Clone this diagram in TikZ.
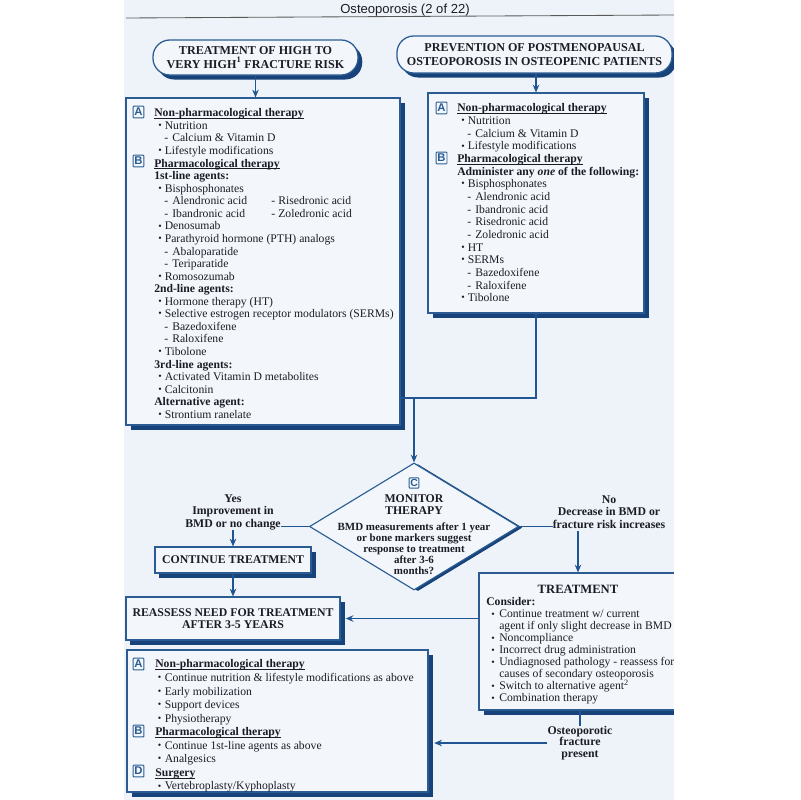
\documentclass[tikz,border=0pt]{standalone}
\usepackage{fontspec}
\setmainfont{Liberation Serif}
\newfontfamily\hsans{Liberation Sans}
\usetikzlibrary{shapes.geometric,shadows,fit,arrows.meta,calc}
\definecolor{pagebg}{HTML}{EEF3F9}
\definecolor{boxbg}{HTML}{F3F7FB}
\definecolor{bord}{HTML}{2A5C93}
\definecolor{shd}{HTML}{17437A}
\definecolor{conn}{HTML}{1F5592}
\definecolor{ink}{HTML}{1C1C26}
\newlength\px \setlength\px{0.7113pt}
\newcommand\tight{\lineskiplimit=-20pt\relax\lineskip=0pt\relax}
\newcommand\bodyfont{\fontsize{8.3}{8.93}\selectfont\tight}
\newcommand\bdot{\raisebox{0.6pt}{\fontsize{7}{6}\selectfont\textbullet}}
\newcommand\bull[3]{\hspace*{#1\px}\makebox[\dimexpr#2\px-#1\px\relax][l]{\bdot}#3}
\newcommand\bA[1]{\bull{4}{10.5}{#1}}
\newcommand\dA[1]{\hspace*{10\px}\makebox[8\px][l]{-}#1}
\newcommand\bT[1]{\bull{5}{13}{#1}}
\newcommand\bB[1]{\bull{2.5}{9.5}{#1}}
\newsavebox\hdbox
\newcommand\hd[1]{\sbox\hdbox{\textbf{#1}}\rlap{\rule[-1.4pt]{\wd\hdbox}{0.45pt}}\usebox\hdbox}
\begin{document}
\begin{tikzpicture}[x=0.025cm,y=-0.025cm,
  tbox/.style={draw=bord, line width=0.8pt, fill=boxbg, inner sep=0pt,
    general shadow={fill=shd, shadow xshift=3.4pt, shadow yshift=-3.4pt}},
  pill/.style={draw=bord, line width=0.9pt, fill=boxbg, rounded corners=12pt, inner sep=0pt,
    align=center, text=ink, font=\bfseries\fontsize{8.6}{9.8}\selectfont\tight,
    general shadow={fill=shd, shadow xshift=3pt, shadow yshift=-3.2pt}},
  capbox/.style={draw=bord, line width=0.8pt, fill=boxbg, inner sep=0pt, align=center, text=ink,
    font=\bfseries\fontsize{8.4}{8.8}\selectfont\tight,
    general shadow={fill=shd, shadow xshift=3.2pt, shadow yshift=-3.2pt}},
  txt/.style={inner sep=0pt, align=left, font=\bodyfont, text=ink},
  lbl/.style={inner sep=0pt, align=center, text=ink, font=\bfseries\fontsize{8.4}{8.9}\selectfont\tight},
  lbox/.style={draw=bord, line width=0.7pt, text=bord, fill=boxbg, inner sep=0pt,
    minimum width=7.8pt, minimum height=8.4pt, rounded corners=0.6pt,
    font=\hsans\bfseries\fontsize{8}{8}\selectfont},
  conn/.style={draw=conn, line width=1.1pt},
  arr/.style={conn, -{Stealth[length=5.5pt, width=4.6pt]}}
]
\useasboundingbox (0,0) rectangle (800,800);
\fill[white] (0,0) rectangle (800,800);
\fill[pagebg] (124,0) rectangle (674,800);

% title
\node[font=\hsans\fontsize{9.3}{10}\selectfont, text=ink, inner sep=0pt] (TTL) at (405,10) {Osteoporosis (2 of 22)};
\draw[gray!70!black, line width=0.6pt] (126,18) -- (674,15);

% header pills
\node[pill, minimum width=5.125cm, minimum height=0.875cm] (LH) at (255.5,57.5)
  {TREATMENT OF HIGH TO\\VERY HIGH\textsuperscript{1} FRACTURE RISK};
\node[pill, minimum width=6.875cm, minimum height=0.925cm] (RH) at (534.5,54.5)
  {PREVENTION OF POSTMENOPAUSAL\\OSTEOPOROSIS IN OSTEOPENIC PATIENTS};

% main boxes
\node[tbox, fit={(126,98) (400,425)}] (LB) {};
\node[tbox, fit={(428,93) (644,313)}] (RB) {};

\draw[arr] (LH.south) -- (LH.south |- LB.north);
\draw[arr] (RH.south -| RB.north) -- (RB.north);

\node[txt, anchor=north west] (LT) at (154,108.5) {%
\hd{Non-pharmacological therapy}\\
\bA{Nutrition}\\
\dA{Calcium \& Vitamin D}\\
\bA{Lifestyle modifications}\\
\hd{Pharmacological therapy}\\
\textbf{1st-line agents:}\\
\bA{Bisphosphonates}\\
\makebox[117\px][l]{\dA{Alendronic acid}}\makebox[7\px][l]{-}Risedronic acid\\
\makebox[117\px][l]{\dA{Ibandronic acid}}\makebox[7\px][l]{-}Zoledronic acid\\
\bA{Denosumab}\\
\bA{Parathyroid hormone (PTH) analogs}\\
\dA{Abaloparatide}\\
\dA{Teriparatide}\\
\bA{Romosozumab}\\
\textbf{2nd-line agents:}\\
\bA{Hormone therapy (HT)}\\
\bA{Selective estrogen receptor modulators (SERMs)}\\
\dA{Bazedoxifene}\\
\dA{Raloxifene}\\
\bA{Tibolone}\\
\textbf{3rd-line agents:}\\
\bA{Activated Vitamin D metabolites}\\
\bA{Calcitonin}\\
\textbf{Alternative agent:}\\
\bA{Strontium ranelate}};
\node[lbox] (LA) at (138.5,112) {A};
\node[lbox] (LBb) at (138.5,161) {B};

\node[txt, anchor=north west, font=\fontsize{8.3}{9.0}\selectfont\tight] (RT) at (457,103.5) {%
\hd{Non-pharmacological therapy}\\
\bA{Nutrition}\\
\dA{Calcium \& Vitamin D}\\
\bA{Lifestyle modifications}\\
\hd{Pharmacological therapy}\\
\textbf{Administer any \textit{one} of the following:}\\
\bA{Bisphosphonates}\\
\dA{Alendronic acid}\\
\dA{Ibandronic acid}\\
\dA{Risedronic acid}\\
\dA{Zoledronic acid}\\
\bA{HT}\\
\bA{SERMs}\\
\dA{Bazedoxifene}\\
\dA{Raloxifene}\\
\bA{Tibolone}};
\node[lbox] (RA1) at (441.5,108) {A};
\node[lbox] (RB1) at (441.5,158) {B};

% junction and diamond
\coordinate (J) at (414,398);
\draw[conn] (RB.south) |- (J) -- (J -| LB.east);
\node[diamond, draw=bord, line width=0.8pt, fill=boxbg, minimum width=5.225cm, minimum height=3.175cm,
  inner sep=0pt, general shadow={fill=shd, shadow xshift=2.8pt, shadow yshift=-0.8pt}] (D) at (414,526.5) {};
\draw[arr] (J) -- (D.north);
\node[lbox, minimum width=7pt, minimum height=7.4pt, font=\hsans\bfseries\fontsize{7.4}{7.4}\selectfont] (DC) at (414,483) {C};
\node[lbl, font=\bfseries\fontsize{8.4}{8.5}\selectfont\tight] (DM) at (414,505) {MONITOR\\THERAPY};
\node[lbl, font=\bfseries\fontsize{7.8}{7.8}\selectfont\tight] (DQ) at (414,549)
  {BMD measurements after 1 year\\or bone markers suggest\\response to treatment\\after 3-6\\months?};

% yes branch
\node[lbl] (YL) at (233,512) {Yes\\Improvement in\\BMD or no change};
\draw[conn] (D.west) -- (YL.east |- D.west);
\node[capbox, minimum width=3.9cm, minimum height=0.65cm] (CT) at (233,560) {CONTINUE TREATMENT};
\draw[arr] (YL.south) -- (CT.north);
\node[capbox, minimum width=5.35cm, minimum height=1.075cm] (RA) at (233,618.5) {REASSESS NEED FOR TREATMENT\\AFTER 3-5 YEARS};
\draw[arr] (CT.south) -- (RA.north);

% no branch
\node[lbl] (NL) at (609,512) {No\\Decrease in BMD or\\fracture risk increases};
\draw[conn] (D.east) -- (NL.west |- D.east);
\node[tbox, fit={(479,573) (700,710)}] (TR) {};
\coordinate (NA) at (578,531);
\draw[arr] (NA) -- (NA |- TR.north);
\node[font=\bfseries\fontsize{9}{10}\selectfont, text=ink, inner sep=0pt] (TRt) at (578,589) {TREATMENT};
\node[txt, anchor=north west, font=\fontsize{8.3}{8.54}\selectfont\tight] (TT) at (486,597.5) {%
\textbf{Consider:}\\
\bT{Continue treatment w/ current}\\
\hspace*{13\px}agent if only slight decrease in BMD\\
\bT{Noncompliance}\\
\bT{Incorrect drug administration}\\
\bT{Undiagnosed pathology - reassess for}\\
\hspace*{13\px}causes of secondary osteoporosis\\
\bT{Switch to alternative agent\textsuperscript{2}}\\
\bT{Combination therapy}};
\draw[arr] (RA.east -| TR.west) -- ([xshift=3.6pt]RA.east);

% bottom box
\node[tbox, fit={(127,650) (428,792)}] (BB) {};
\node[txt, anchor=north west, font=\fontsize{8.3}{9.64}\selectfont\tight] (BT) at (155,659.5) {%
\hd{Non-pharmacological therapy}\\
\bB{Continue nutrition \& lifestyle modifications as above}\\
\bB{Early mobilization}\\
\bB{Support devices}\\
\bB{Physiotherapy}\\
\hd{Pharmacological therapy}\\
\bB{Continue 1st-line agents as above}\\
\bB{Analgesics}\\
\hd{Surgery}\\
\bB{Vertebroplasty/Kyphoplasty}};
\node[lbox] (BA) at (138.5,664) {A};
\node[lbox] (BBb) at (138.5,731) {B};
\node[lbox] (BD) at (138.5,771) {D};

\node[lbl, font=\bfseries\fontsize{8.4}{8.2}\selectfont\tight] (OF) at (580,743) {Osteoporotic\\fracture\\present};
\draw[conn] (OF.north |- TR.south) -- (OF.north);
\draw[arr] (OF.west) -- ([xshift=4pt]OF.west -| BB.east);

% page edge
\fill[white] (674,0) rectangle (800,800);
\end{tikzpicture}
\end{document}
